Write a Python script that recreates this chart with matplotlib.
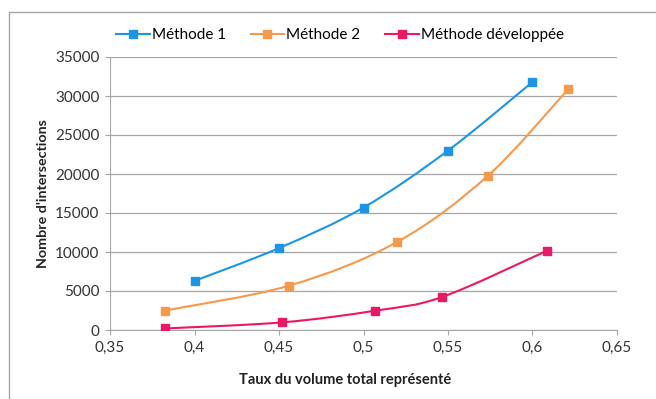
import numpy as np
import matplotlib.pyplot as plt
from matplotlib.path import Path
from matplotlib.patches import PathPatch, Rectangle
from matplotlib.ticker import FuncFormatter

plt.rcParams['font.family'] = ['Lato', 'DejaVu Sans']

# données
x_m1 = [0.40, 0.45, 0.50, 0.55, 0.60]
y_m1 = [6300, 10500, 15700, 23000, 31800]
x_m2 = [0.3827, 0.4562, 0.5196, 0.5735, 0.6212]
y_m2 = [2500, 5700, 11250, 19750, 30900]
x_dev = [0.3827, 0.452, 0.507, 0.5465, 0.6085]
y_dev = [200, 980, 2480, 4230, 10150]
labels = ['Méthode 1', 'Méthode 2', 'Méthode développée']
colors = ['#1B95E8', '#F7994B', '#EC1765']
xticks = [0.35, 0.4, 0.45, 0.5, 0.55, 0.6, 0.65]
yticks = [0, 5000, 10000, 15000, 20000, 25000, 30000, 35000]


def smooth_path(xs, ys):
    # courbe lissee type Excel (Bezier, Catmull-Rom)
    p = np.column_stack([xs, ys]).astype(float)
    n = len(p)
    verts = [p[0]]
    codes = [Path.MOVETO]
    for i in range(n - 1):
        p0 = p[i - 1] if i > 0 else p[i]
        p3 = p[i + 2] if i + 2 < n else p[i + 1]
        c1 = p[i] + (p[i + 1] - p0) / 6
        c2 = p[i + 1] - (p3 - p[i]) / 6
        verts += [c1, c2, p[i + 1]]
        codes += [Path.CURVE4] * 3
    return Path(verts, codes)


fig = plt.figure(figsize=(6.56, 3.99), dpi=100)
ax = fig.add_axes([110 / 656, 69 / 399, 507 / 656, 273 / 399])

# cadre gris autour
fig.patches.append(Rectangle((9 / 656, -0.1), 1.2, (399 - 12) / 399 + 0.1,
                             transform=fig.transFigure, fill=False,
                             edgecolor='#A6A6A6', lw=1))

series = [(x_m1, y_m1), (x_m2, y_m2), (x_dev, y_dev)]
for (xs, ys), lab, c in zip(series, labels, colors):
    ax.add_patch(PathPatch(smooth_path(xs, ys), fill=False, edgecolor=c, lw=1.5, zorder=3))
    ax.plot(xs, ys, ls='none', marker='s', ms=6, color=c, zorder=4)
    ax.plot([], [], color=c, lw=1.5, marker='s', ms=6, label=lab)

ax.set_xlim(0.35, 0.65)
ax.set_ylim(0, 35000)
ax.set_xticks(xticks)
ax.set_yticks(yticks)
ax.xaxis.set_major_formatter(FuncFormatter(lambda v, p: ('%g' % round(v, 2)).replace('.', ',')))
ax.grid(axis='y', color='#A6A6A6', lw=0.9)
ax.set_axisbelow(True)
for s in ['top', 'right']:
    ax.spines[s].set_visible(False)
for s in ['left', 'bottom']:
    ax.spines[s].set_color('#A6A6A6')
ax.tick_params(axis='both', direction='out', length=3.6, color='#A6A6A6',
               labelsize=11, labelcolor='#333333', pad=4)

fig.text(345 / 656, 19 / 399, 'Taux du volume total représenté', ha='center', va='center',
         fontsize=10.5, fontweight='bold', color='#222222')
fig.text(43 / 656, 205 / 399, "Nombre d'intersections", ha='center', va='center', rotation=90,
         fontsize=10.3, fontweight='bold', color='#222222')

fig.legend(loc='center', bbox_to_anchor=(340 / 656, 364 / 399), ncol=3, frameon=False,
           fontsize=11, handlelength=2.2, handletextpad=0.15, columnspacing=1.6)

fig.savefig('out.png', dpi=100)
